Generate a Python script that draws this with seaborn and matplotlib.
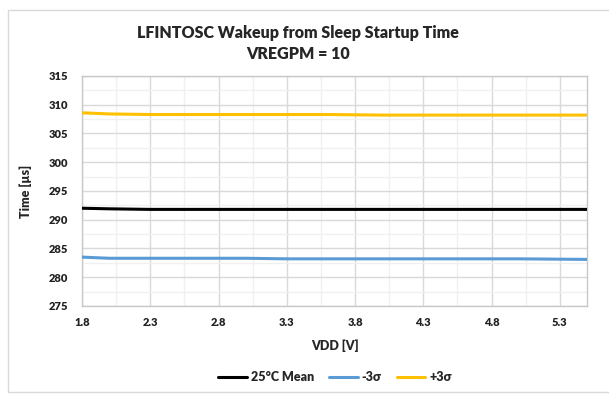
import numpy as np
import pandas as pd
import seaborn as sns
import matplotlib.pyplot as plt
from matplotlib.patches import Rectangle
from matplotlib.lines import Line2D
from matplotlib.ticker import MultipleLocator, FixedLocator

# Data
vdd = [1.8, 2.0, 2.3, 2.5, 3.0, 3.3, 3.6, 4.0, 4.5, 5.0, 5.5]
mean_25c = [292.0, 291.9, 291.8, 291.8, 291.8, 291.8, 291.8, 291.8, 291.8, 291.8, 291.8]
minus_3s = [283.5, 283.3, 283.3, 283.3, 283.3, 283.2, 283.2, 283.2, 283.2, 283.2, 283.1]
plus_3s = [308.6, 308.4, 308.3, 308.3, 308.3, 308.3, 308.3, 308.2, 308.2, 308.2, 308.2]
series_names = ['25°C Mean', '-3σ', '+3σ']
x_ticks = [1.8, 2.3, 2.8, 3.3, 3.8, 4.3, 4.8, 5.3]

colors = {'25°C Mean': '#000000', '-3σ': '#5B9BD5', '+3σ': '#FFC000'}

df = pd.concat([
    pd.DataFrame({'VDD': vdd, 'Time': vals, 'series': name})
    for name, vals in zip(series_names, [mean_25c, minus_3s, plus_3s])
])

sns.set_theme(style="white")
plt.rcParams['font.family'] = ['Lato', 'DejaVu Sans']
bold = 'heavy'

fig = plt.figure(figsize=(6.09, 4.04), dpi=100)
ax = fig.add_axes([0.1346, 0.2426, 0.8296, 0.5693])

# outer chart frame
fig.patches.append(Rectangle((0.013, 0.03), 1.2, 0.945, transform=fig.transFigure,
                             fill=False, edgecolor='#d9d9d9', linewidth=1.0, zorder=0))

sns.lineplot(data=df, x='VDD', y='Time', hue='series', palette=colors, ax=ax,
             linewidth=2.2, legend=False, zorder=3)

ax.set_xlim(1.8, 5.5)
ax.set_ylim(275, 315)
ax.xaxis.set_major_locator(FixedLocator(x_ticks))
ax.xaxis.set_minor_locator(FixedLocator([2.05, 2.55, 3.05, 3.55, 4.05, 4.55, 5.05]))
ax.yaxis.set_major_locator(MultipleLocator(5))
ax.yaxis.set_minor_locator(MultipleLocator(2.5))
ax.grid(True, which='major', color='#d9d9d9', linewidth=1.0, zorder=0)
ax.grid(True, which='minor', color='#f0f0f0', linewidth=1.0, zorder=0)
ax.tick_params(which='both', length=0)
ax.tick_params(axis='x', pad=8)
ax.tick_params(axis='y', pad=10)
for lab in ax.get_xticklabels() + ax.get_yticklabels():
    lab.set_fontsize(8)
    lab.set_fontweight(bold)
    lab.set_color('#222222')
for sp in ax.spines.values():
    sp.set_color('#c8c8c8')
    sp.set_linewidth(1.0)

ax.set_xlabel('VDD [V]', fontsize=9, fontweight=bold, labelpad=8)
ax.set_ylabel('Time [µs]', fontsize=9, fontweight=bold, labelpad=12)

fig.text(0.49, 0.918, 'LFINTOSC Wakeup from Sleep Startup Time', ha='center', va='center',
         fontsize=11.5, fontweight=bold)
fig.text(0.49, 0.866, 'VREGPM = 10', ha='center', va='center',
         fontsize=11.5, fontweight=bold)

handles = [Line2D([0], [0], color=colors[n], linewidth=2.2) for n in series_names]
fig.legend(handles, series_names, loc='center', bbox_to_anchor=(0.55, 0.067), ncol=3,
           frameon=False, handlelength=2.3, handletextpad=0.3, columnspacing=1.2,
           prop={'size': 9, 'weight': bold})

fig.savefig('out.png', dpi=100)
